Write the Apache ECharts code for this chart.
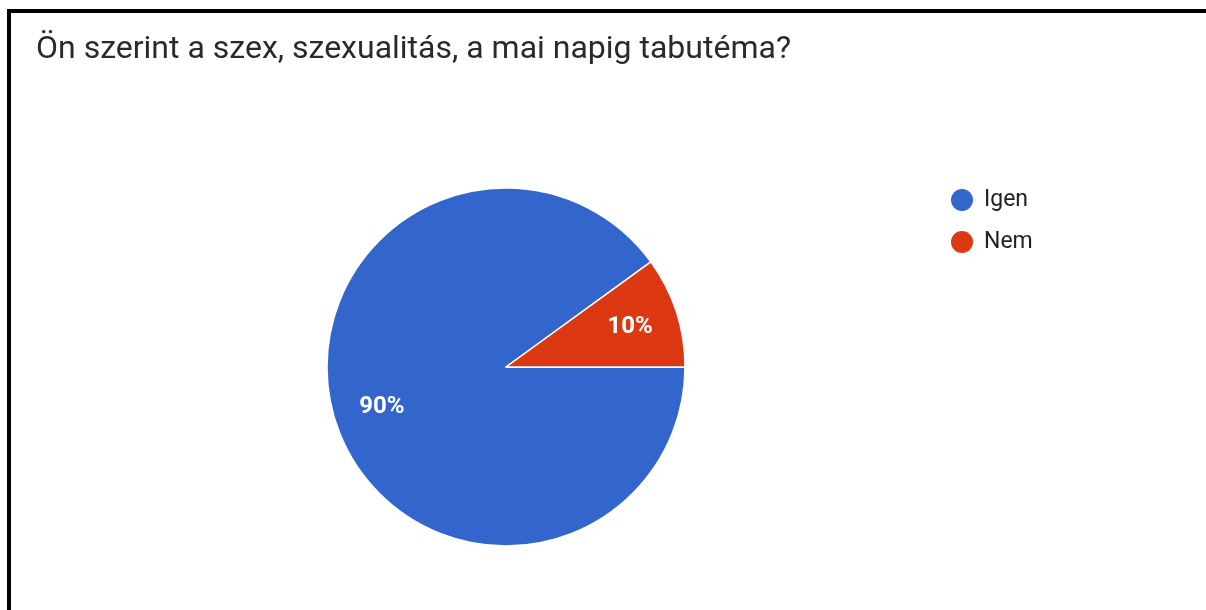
<!DOCTYPE html>
<html>
<head>
<meta charset="utf-8">
<script src="https://cdn.jsdelivr.net/npm/echarts@6/dist/echarts.min.js"></script>
<style>
  html, body { margin: 0; padding: 0; background: #fff; }
  #frame { position: absolute; left: 7px; top: 9px; width: 1220px; height: 620px;
           border-left: 4px solid #000; border-top: 4px solid #000; box-sizing: border-box; }
  #chart { position: absolute; left: 0; top: 0; width: 1206px; height: 610px; }
</style>
</head>
<body>
<div id="frame"></div>
<div id="chart"></div>
<script>
const titleText = 'Ön szerint a szex, szexualitás, a mai napig tabutéma?';
const categories = ['Igen', 'Nem'];
const values = [90, 10];
const colors = ['#3366cc', '#dc3912'];

const pieData = categories.map((name, i) => ({ name: name, value: values[i] }));

const chart = echarts.init(document.getElementById('chart'), null, { renderer: 'canvas' });
chart.setOption({
  animation: false,
  backgroundColor: 'transparent',
  color: colors,
  title: {
    text: titleText,
    left: 36,
    top: 34,
    padding: 0,
    textStyle: { fontFamily: 'Roboto', fontSize: 32, fontWeight: 'normal', color: '#2a2a2a' }
  },
  legend: {
    orient: 'vertical',
    left: 949,
    top: 187,
    padding: 0,
    icon: 'circle',
    itemWidth: 24,
    itemHeight: 24,
    itemGap: 16,
    data: categories,
    textStyle: { fontFamily: 'Roboto', fontSize: 23, color: '#222222', padding: [0, 0, 0, 5] }
  },
  series: [
    {
      type: 'pie',
      center: [506, 367],
      radius: [0, 179],
      startAngle: 0,
      clockwise: true,
      data: pieData,
      label: { show: false },
      labelLine: { show: false },
      itemStyle: { borderColor: '#ffffff', borderWidth: 1.5 },
      emphasis: { disabled: true }
    },
    {
      type: 'pie',
      center: [506, 367],
      radius: [76, 179],
      startAngle: 0,
      clockwise: true,
      silent: true,
      data: pieData,
      itemStyle: { color: 'transparent', borderWidth: 0 },
      label: {
        show: true,
        position: 'inside',
        formatter: p => Math.round(p.percent) + '%',
        fontFamily: 'Roboto',
        fontSize: 24,
        fontWeight: 'bold',
        color: '#ffffff'
      },
      labelLine: { show: false },
      emphasis: { disabled: true }
    }
  ]
});
</script>
</body>
</html>
